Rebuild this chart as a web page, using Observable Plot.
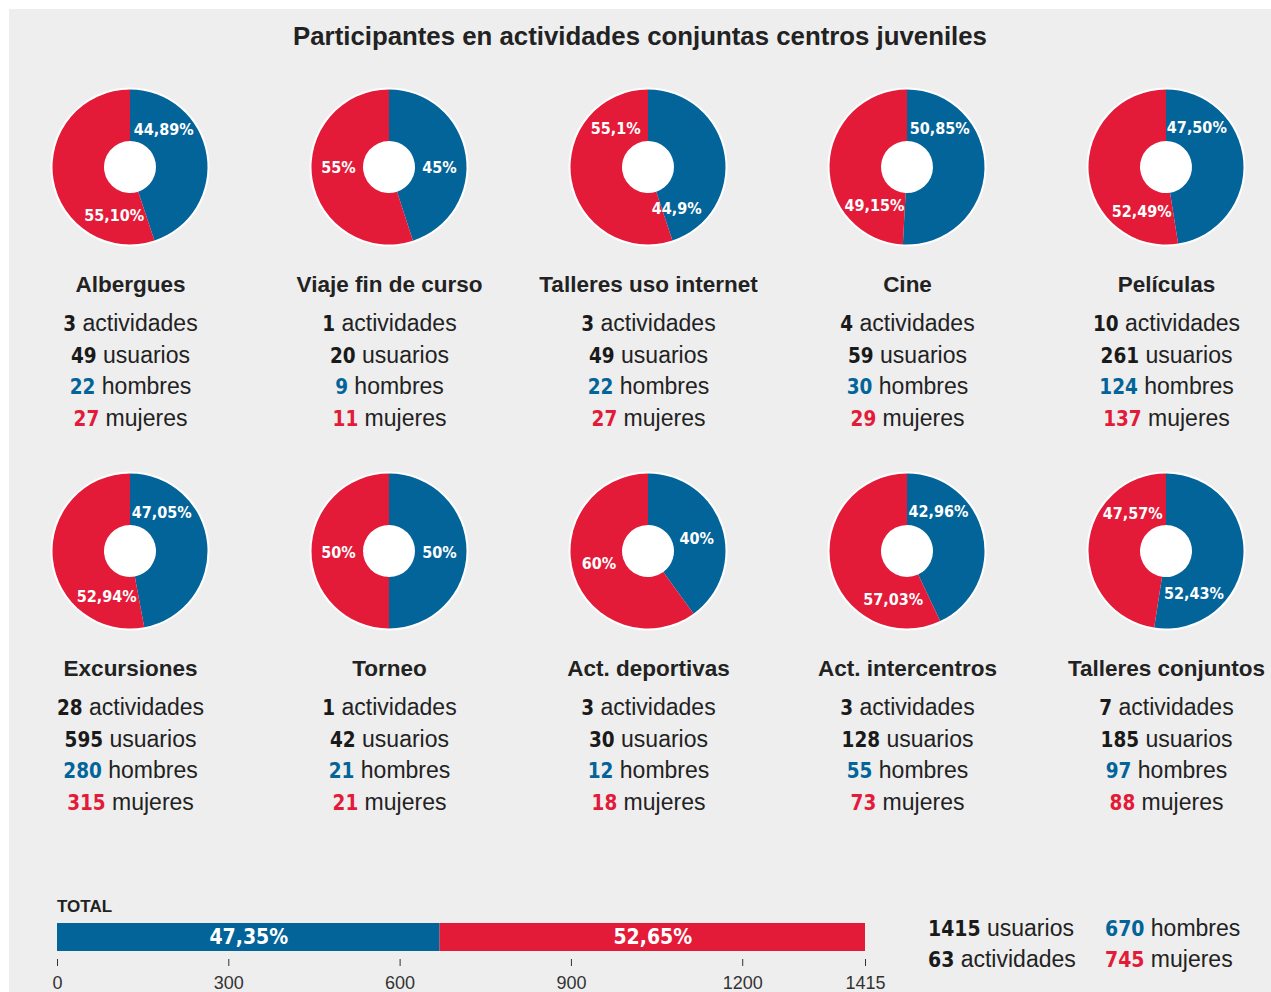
<!DOCTYPE html>
<html>
<head>
<meta charset="utf-8">
<script src="https://cdn.jsdelivr.net/npm/d3@7"></script>
<script src="https://cdn.jsdelivr.net/npm/@observablehq/plot@0.6"></script>
<style>
  html, body { margin: 0; padding: 0; background: #ffffff; }
  body { width: 1271px; height: 992px; overflow: hidden; position: relative; font-family: "Liberation Sans", Arial, sans-serif; color: #222; }
  #bg { position: absolute; left: 9px; top: 9px; width: 1262px; height: 983px; background: #eeeeee; }
  #title { position: absolute; left: 9px; width: 1262px; top: 22px; line-height: 28px; text-align: center; font-size: 25.8px; font-weight: bold; color: #222; }
  #pies { position: absolute; left: 0; top: 60px; }
  #totalLabel { position: absolute; left: 57px; top: 897px; line-height: 20px; font-size: 17px; font-weight: bold; color: #222; }
  #total { position: absolute; left: 0; top: 890px; }
  #stats { position: absolute; left: 928px; top: 913px; display: grid; grid-template-columns: 177px auto; grid-auto-rows: 31px; font-size: 23px; line-height: 31px; color: #222; white-space: nowrap; }
  .num { font-family: "DejaVu Sans Condensed", "DejaVu Sans", sans-serif; font-stretch: condensed; font-weight: bold; font-size: 21px; }
  [font-family*="DejaVu"] { font-stretch: condensed; }
</style>
</head>
<body>
<div id="bg"></div>
<div id="title"></div>
<div id="pies"></div>
<div id="totalLabel">TOTAL</div>
<div id="total"></div>
<div id="stats"></div>
<script>
// ---------- data ----------
const chartTitle = "Participantes en actividades conjuntas centros juveniles";
const activities = ["Albergues", "Viaje fin de curso", "Talleres uso internet", "Cine", "Películas",
                    "Excursiones", "Torneo", "Act. deportivas", "Act. intercentros", "Talleres conjuntos"];
const actividades = [3, 1, 3, 4, 10, 28, 1, 3, 3, 7];
const usuarios   = [49, 20, 49, 59, 261, 595, 42, 30, 128, 185];
const hombres    = [22, 9, 22, 30, 124, 280, 21, 12, 55, 97];
const mujeres    = [27, 11, 27, 29, 137, 315, 21, 18, 73, 88];
const pctHombres = ["44,89%", "45%", "44,9%", "50,85%", "47,50%", "47,05%", "50%", "40%", "42,96%", "52,43%"];
const pctMujeres = ["55,10%", "55%", "55,1%", "49,15%", "52,49%", "52,94%", "50%", "60%", "57,03%", "47,57%"];

const totalUsuarios = 1415;
const totalActividades = 63;
const totalHombres = 670;
const totalMujeres = 745;
const pctTotal = ["47,35%", "52,65%"];
const axisTicks = [0, 300, 600, 900, 1200, 1415];

// ---------- layout / style ----------
// where along each slice its percentage label sits (fraction of the slice's sweep)
const labelAlongH = [0.26, 0.56, 0.9, 0.22, 0.22, 0.23, 0.51, 0.52, 0.25, 0.775];
const labelAlongM = [0.185, 0.545, 0.8, 0.21, 0.2, 0.2, 0.49, 0.52, 0.2, 0.76];

const BLUE = "#03649a", RED = "#e41a39", INK = "#222222";
const NUMFONT = '"DejaVu Sans Condensed", "DejaVu Sans", sans-serif';
const TEXTFONT = '"Liberation Sans", Arial, sans-serif';

document.getElementById("title").textContent = chartTitle;

// ---------- pies ----------
const cells = activities.map((name, i) => ({
  name, col: i % 5, row: Math.floor(i / 5),
  actividades: actividades[i], usuarios: usuarios[i], hombres: hombres[i], mujeres: mujeres[i]
}));

function pieMark(index, scales) {
  const g = d3.create("svg:g");
  const arcGen = d3.arc().innerRadius(26).outerRadius(77.5);
  const pieGen = d3.pie().sort(null);
  cells.forEach((c, i) => {
    const cx = scales.x(c.col), cy = scales.y(c.row);
    const gi = g.append("g").attr("transform", `translate(${cx},${cy})`);
    gi.append("circle").attr("r", 79.5).attr("fill", "white");
    const arcs = pieGen([hombres[i], mujeres[i]]);
    const fills = [BLUE, RED];
    const texts = [pctHombres[i], pctMujeres[i]];
    const along = [labelAlongH[i], labelAlongM[i]];
    arcs.forEach((a, k) => gi.append("path").attr("d", arcGen(a)).attr("fill", fills[k]));
    arcs.forEach((a, k) => {
      const ang = a.startAngle + along[k] * (a.endAngle - a.startAngle);
      gi.append("text")
        .attr("x", 50.5 * Math.sin(ang))
        .attr("y", -50.5 * Math.cos(ang))
        .attr("dy", "0.36em")
        .attr("text-anchor", "middle")
        .attr("fill", "white")
        .attr("font-family", NUMFONT)
        .attr("font-weight", "bold")
        .attr("font-size", 16)
        .style("font-stretch", "condensed")
        .text(texts[k]);
    });
  });
  return g.node();
}

const lineOpts = {x: "col", y: "row", fontSize: 23, fontFamily: TEXTFONT, fill: INK};
const piePlot = Plot.plot({
  width: 1271, height: 790,
  margin: 0,
  style: {background: "transparent", overflow: "visible"},
  x: {domain: [0, 4], range: [130, 1166], axis: null},
  y: {domain: [0, 1], range: [107, 491], axis: null},
  marks: [
    pieMark,
    Plot.text(cells, {x: "col", y: "row", text: "name", dy: 117, fontSize: 22.5, fontWeight: "bold", fontFamily: TEXTFONT, fill: INK}),
    Plot.text(cells, {...lineOpts, text: d => `${d.actividades} actividades`, dy: 156}),
    Plot.text(cells, {...lineOpts, text: d => `${d.usuarios} usuarios`, dy: 188}),
    Plot.text(cells, {...lineOpts, text: d => `${d.hombres} hombres`, dy: 219.5}),
    Plot.text(cells, {...lineOpts, text: d => `${d.mujeres} mujeres`, dy: 251})
  ]
});

// bold coloured number + regular word inside each stat line
d3.select(piePlot).selectAll("text").each(function () {
  const m = this.textContent.match(/^(\d+) (\S+)$/);
  if (!m) return;
  const color = m[2] === "hombres" ? BLUE : m[2] === "mujeres" ? RED : "#1a1a1a";
  const sel = d3.select(this);
  sel.text(null);
  sel.append("tspan").attr("fill", color).attr("font-family", NUMFONT).attr("font-weight", "bold")
    .attr("font-size", 20.5).style("font-stretch", "condensed").text(m[1]);
  sel.append("tspan").attr("fill", INK).text(" " + m[2]);
});
document.getElementById("pies").appendChild(piePlot);

// ---------- total bar ----------
const totalValues = [totalHombres, totalMujeres];
const totalSex = ["hombres", "mujeres"];
const ends = d3.cumsum(totalValues);
const totalSeries = totalValues.map((v, k) => ({sex: totalSex[k], x1: ends[k] - v, x2: ends[k], pct: pctTotal[k]}));

const totalPlot = Plot.plot({
  width: 1271, height: 102,
  marginLeft: 57, marginRight: 406, marginTop: 33, marginBottom: 33,
  style: {background: "transparent", color: "#333", overflow: "visible"},
  x: {domain: [0, totalUsuarios], label: null},
  color: {domain: totalSex, range: [BLUE, RED]},
  marks: [
    Plot.barX(totalSeries, {x1: "x1", x2: "x2", fill: "sex", insetBottom: 8}),
    Plot.text(totalSeries, {x: d => (d.x1 + d.x2) / 2, text: "pct", fill: "white", dy: -4,
      fontFamily: NUMFONT, fontWeight: "bold", fontSize: 21}),
    Plot.axisX({ticks: axisTicks, tickSize: 7, tickPadding: 10, tickFormat: d => String(d),
      fontSize: 18, fontFamily: TEXTFONT, label: null})
  ]
});
document.getElementById("total").appendChild(totalPlot);

// ---------- total stats ----------
const stats = [
  [totalUsuarios, "usuarios", "#1a1a1a"], [totalHombres, "hombres", BLUE],
  [totalActividades, "actividades", "#1a1a1a"], [totalMujeres, "mujeres", RED]
];
const statsDiv = d3.select("#stats");
stats.forEach(([n, w, c]) => {
  const d = statsDiv.append("div");
  d.append("span").attr("class", "num").style("color", c).text(n);
  d.append("span").text(" " + w);
});
</script>
</body>
</html>
